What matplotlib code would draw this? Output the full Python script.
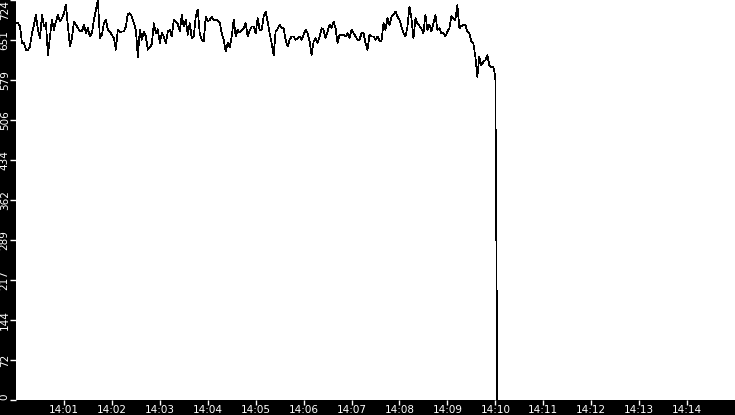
import matplotlib
matplotlib.use("Agg")
import matplotlib.pyplot as plt
import matplotlib.dates as mdates
import numpy as np

# samples, one every 2.5 s starting 14:00:00
vals_a = [682, 682, 676, 646, 646, 634, 634, 640, 664, 679, 697, 670, 655, 697, 676, 682,
          624, 658, 688, 670, 685, 697, 685, 691, 700, 716, 676, 640, 655, 685, 679, 673,
          667, 667, 679, 664, 673, 658, 664, 688, 706, 724, 655, 661, 682, 688, 670, 667,
          661, 655, 634, 670, 666, 667, 667, 676, 699, 700, 694, 682, 670, 621]
vals_b = [670, 652, 667, 658, 634, 638, 644, 682, 664, 671, 646, 664, 658, 646, 667, 670,
          658, 688, 685, 681, 667, 697, 676, 688, 661, 682, 655, 658, 694, 707, 664, 652,
          649, 694, 685, 688, 693, 688, 688, 687, 683, 664, 652, 631, 647, 638, 658, 688,
          658, 670, 665, 670, 673, 682, 658, 669, 676, 676, 664, 691]
vals_c = [670, 670, 694, 703, 685, 664, 646, 624, 667, 672, 679, 673, 673, 652, 640, 652,
          658, 658, 652, 655, 658, 652, 661, 670, 664, 649, 624, 649, 655, 646, 658, 673,
          670, 655, 667, 679, 673, 685, 673, 646, 661, 661, 661, 658, 664, 655, 670, 664,
          658, 652, 652, 664, 664, 646, 634, 661, 658, 658, 652, 658]
vals_d = [650, 649, 682, 670, 691, 679, 694, 697, 703, 694, 688, 676, 664, 658, 676, 712,
          691, 655, 691, 682, 677, 672, 664, 697, 670, 679, 667, 682, 697, 670, 673, 664,
          664, 658, 667, 673, 695, 691, 688, 715, 673, 677, 679, 679, 667, 664, 649, 646,
          621, 585, 621, 606, 612, 615, 624, 606, 603, 603, 585, 0]

values = vals_a + vals_b + vals_c + vals_d
start = np.datetime64("2024-01-01T14:00:00")
times = start + np.arange(len(values)) * np.timedelta64(2500, "ms")

y_max = 724
y_ticks = np.linspace(0, y_max, 11)
y_labels = [str(int(t)) for t in y_ticks]

fig = plt.figure(figsize=(7.35, 4.15), dpi=100, facecolor="black")
ax = fig.add_axes([16 / 735, 15 / 415, 719 / 735, 400 / 415])
ax.set_facecolor("white")

ax.plot(times, values, color="black", linewidth=0.5, antialiased=False)

ax.set_xlim(np.datetime64("2024-01-01T14:00:00"), np.datetime64("2024-01-01T14:15:00"))
ax.set_ylim(0, y_max)
ax.xaxis.set_major_locator(mdates.MinuteLocator(byminute=range(1, 15)))
ax.xaxis.set_major_formatter(mdates.DateFormatter("%H:%M"))
ax.set_yticks(y_ticks)
ax.set_yticklabels(y_labels, rotation=90, va="center")

labels = ax.get_yticklabels()
labels[0].set_va("bottom")
labels[-1].set_va("top")

ax.tick_params(colors="white", labelsize=7.5, length=4, width=1, pad=0.5)
ax.tick_params(axis="x", length=3.5, pad=0)
for s in ax.spines.values():
    s.set_visible(False)

fig.savefig("out.png", dpi=100, facecolor="black")
